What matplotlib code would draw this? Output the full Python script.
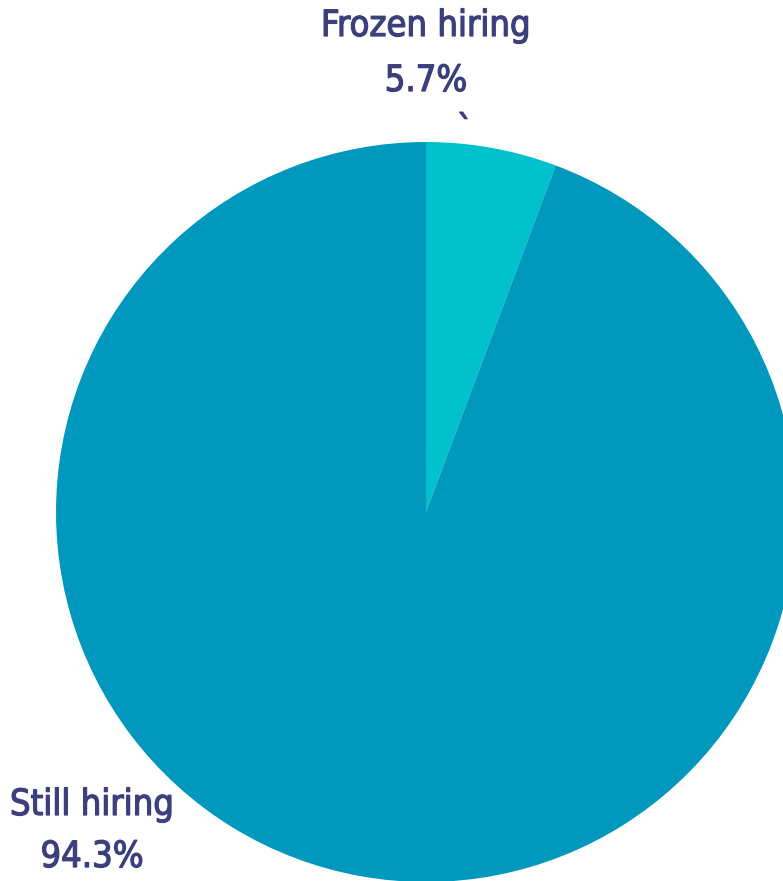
import matplotlib
matplotlib.use("Agg")
import matplotlib.pyplot as plt
import matplotlib.patheffects as pe

# hiring status share
labels = ["Frozen hiring", "Still hiring"]
shares = [5.7, 94.3]
colors = ["#00c1cc", "#0099bd"]

text_color = "#3c3f7c"
label_font = dict(family=["DejaVu Sans"], fontstretch="condensed",
                  color=text_color, fontsize=26,
                  path_effects=[pe.withStroke(linewidth=0.9, foreground=text_color)])

fig = plt.figure(figsize=(7.83, 8.81), dpi=100)
ax = fig.add_axes([0, 0, 1, 1])

ax.pie(shares, colors=colors, startangle=90, counterclock=False,
       center=(426, 369), radius=370, frame=True,
       wedgeprops=dict(linewidth=0))
ax.set_xlim(0, 783)
ax.set_ylim(0, 881)
ax.set_aspect("equal")
ax.axis("off")

ax.text(426, 855, labels[0], ha="center", va="center", **label_font)
ax.text(426, 800, f"{shares[0]}%", ha="center", va="center", **label_font)
ax.text(465, 750, "`", ha="center", va="center", **label_font)

ax.text(92, 76, labels[1], ha="center", va="center", **label_font)
ax.text(92, 24, f"{shares[1]}%", ha="center", va="center", **label_font)

fig.savefig("out.png", dpi=100)
